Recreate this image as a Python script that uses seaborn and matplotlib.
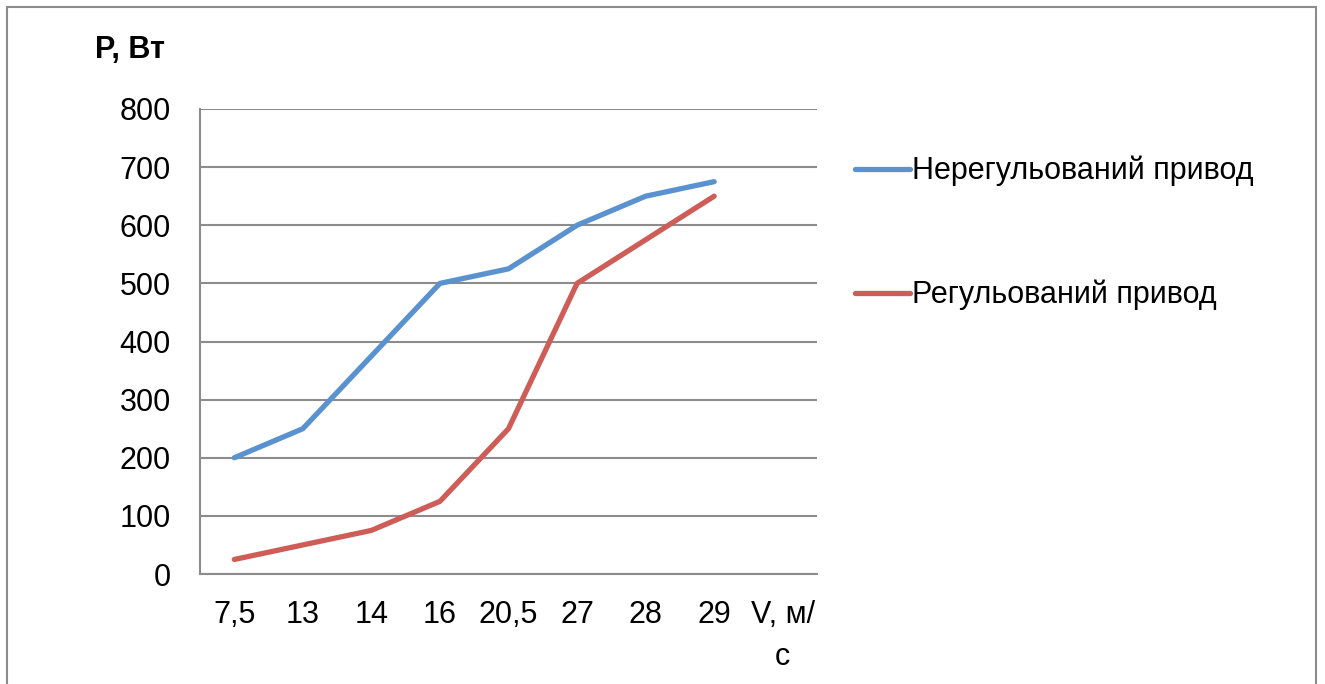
import pandas as pd
import matplotlib.pyplot as plt
import seaborn as sns
from matplotlib.patches import Rectangle

# Data
speeds = ['7,5', '13', '14', '16', '20,5', '27', '28', '29']
axis_label_x = 'V, м/\nс'
unregulated = [200, 250, 375, 500, 525, 600, 650, 675]
regulated = [25, 50, 75, 125, 250, 500, 575, 650]
series_names = ['Нерегульований привод', 'Регульований привод']
colors = ['#5A92CF', '#CD5D56']

sns.set_style('white')
plt.rcParams['font.family'] = ['Liberation Sans', 'DejaVu Sans']
plt.rcParams['text.color'] = 'black'
plt.rcParams['xtick.color'] = 'black'
plt.rcParams['ytick.color'] = 'black'

df = pd.DataFrame({
    'pos': list(range(len(speeds))) * 2,
    'P': unregulated + regulated,
    'series': [series_names[0]] * len(speeds) + [series_names[1]] * len(speeds),
})

fs = 22
fig = plt.figure(figsize=(13.25, 6.84), dpi=100)
ax = fig.add_axes([200 / 1325, 1 - 574 / 684, 617 / 1325, 465 / 684])

sns.lineplot(data=df, x='pos', y='P', hue='series', palette=colors,
             linewidth=3.8, ax=ax, legend=True)

ax.set_xlim(-0.5, len(speeds) + 0.5)
ax.set_ylim(0, 800)
ax.set_yticks(range(0, 801, 100))
ax.set_xticks(range(len(speeds) + 1))
ax.set_xticklabels(speeds + [axis_label_x], fontsize=fs, va='top')
ax.get_xticklabels()[-1].set_linespacing(1.5)
ax.tick_params(axis='y', labelsize=fs, length=0, pad=21)
ax.tick_params(axis='x', length=0, pad=19)
ax.set_xlabel('')
ax.set_ylabel('')
ax.yaxis.grid(True, color='#8c8c8c', linewidth=1.5)
for s in ['top', 'right']:
    ax.spines[s].set_visible(False)
for s in ['left', 'bottom']:
    ax.spines[s].set_color('#8c8c8c')
    ax.spines[s].set_linewidth(1.5)

leg = ax.legend(loc='upper left', bbox_to_anchor=(855 / 1325, 1 - 156 / 684),
                bbox_transform=fig.transFigure, frameon=False, fontsize=fs,
                handlelength=1.8, handletextpad=0.08, labelspacing=3.05,
                borderaxespad=0, borderpad=0)
for line in leg.get_lines():
    line.set_linewidth(3.8)

fig.text(130 / 1325, 1 - 50 / 684, 'P, Вт', fontsize=fs, fontweight='bold',
         ha='center', va='center')

# outer chart border
fig.patches.append(Rectangle((7 / 1325, -0.01), 1309 / 1325, 1 - 7 / 684 + 0.01,
                             transform=fig.transFigure, fill=False,
                             edgecolor='#8c8c8c', linewidth=1.5))

fig.savefig('out.png', dpi=100)
